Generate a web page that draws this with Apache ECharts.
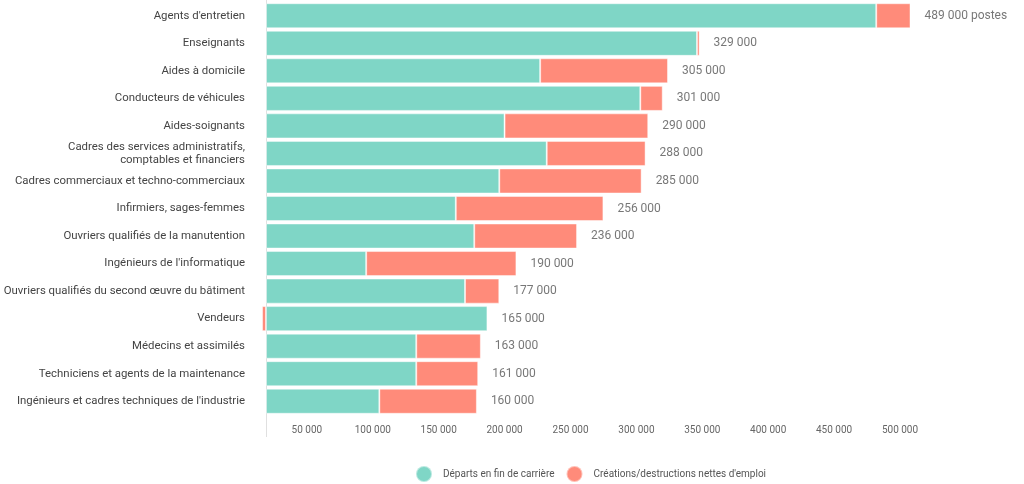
<!DOCTYPE html>
<html><head><meta charset="utf-8">
<script src="https://cdn.jsdelivr.net/npm/echarts@6/dist/echarts.min.js"></script>
<style>html,body{margin:0;padding:0;background:#fff}#c{width:1024px;height:484px}</style>
</head><body><div id="c"></div>
<script>
const categories = [
  "Agents d'entretien",
  "Enseignants",
  "Aides à domicile",
  "Conducteurs de véhicules",
  "Aides-soignants",
  "Cadres des services administratifs,\ncomptables et financiers",
  "Cadres commerciaux et techno-commerciaux",
  "Infirmiers, sages-femmes",
  "Ouvriers qualifiés de la manutention",
  "Ingénieurs de l'informatique",
  "Ouvriers qualifiés du second œuvre du bâtiment",
  "Vendeurs",
  "Médecins et assimilés",
  "Techniciens et agents de la maintenance",
  "Ingénieurs et cadres techniques de l'industrie"
];
const departs = [463000, 327000, 208000, 284000, 181000, 213000, 177000, 144000, 158000, 76000, 151000, 168000, 114000, 114000, 86000];
const creations = [26000, 2000, 97000, 17000, 109000, 75000, 108000, 112000, 78000, 114000, 26000, -3000, 49000, 47000, 74000];
const totals = [489000, 329000, 305000, 301000, 290000, 288000, 285000, 256000, 236000, 190000, 177000, 165000, 163000, 161000, 160000];
const tickValues = [50000, 100000, 150000, 200000, 250000, 300000, 350000, 400000, 450000, 500000];
const seriesNames = ["Départs en fin de carrière", "Créations/destructions nettes d'emploi"];

function fmt(v){ return String(v).replace(/\B(?=(\d{3})+(?!\d))/g, ' '); }

const chart = echarts.init(document.getElementById('c'), null, {renderer:'canvas'});
const labelPos = departs.map((d,i)=>[d + Math.max(creations[i],0), i]);
chart.setOption({
  animation:false,
  textStyle:{fontFamily:'Roboto'},
  grid:{left:266, right:99, top:2, bottom:69},
  legend:{
    left:410, top:460, itemWidth:16, itemHeight:16, itemGap:11, icon:'circle',
    textStyle:{fontSize:10, color:'#555', fontFamily:'Roboto', padding:[0,0,0,6]},
    data:seriesNames
  },
  xAxis:{
    type:'value', min:0, max:500000, interval:50000,
    axisLine:{show:false}, axisTick:{show:false}, splitLine:{show:false},
    axisLabel:{
      color:'#666', fontSize:10, margin:10, padding:[0,50,0,0],
      formatter:v=> tickValues.indexOf(v)>=0 ? fmt(v) : ''
    }
  },
  yAxis:{
    type:'category', data:categories, inverse:true,
    axisLine:{show:false},
    axisTick:{show:false},
    axisLabel:{color:'#444', fontSize:11.4, margin:21, lineHeight:13, align:'right'}
  },
  series:[
    {name:seriesNames[0], type:'bar', stack:'a', data:departs, barCategoryGap:'9%', clip:false,
     itemStyle:{color:'#7fd6c6', borderColor:'rgba(255,255,255,0.45)', borderWidth:1}},
    {name:seriesNames[1], type:'bar', stack:'a', data:creations, clip:false,
     itemStyle:{color:'#ff8b7a', borderColor:'rgba(255,255,255,0.45)', borderWidth:1}},
    {name:'totaux', type:'scatter', data:labelPos, symbolSize:0, silent:true,
     label:{show:true, position:'right', distance:14, color:'#555', fontSize:12,
       formatter:p=> fmt(totals[p.dataIndex]) + (p.dataIndex===0 ? ' postes' : '')}}
  ]
});
const x0 = Math.round(chart.convertToPixel({xAxisIndex:0}, 0)) + 0.5;
chart.setOption({
  graphic:[{type:'line', z:-1, shape:{x1:x0, y1:0, x2:x0, y2:437}, style:{stroke:'#e0e0e0', lineWidth:1}}]
});
</script></body></html>
